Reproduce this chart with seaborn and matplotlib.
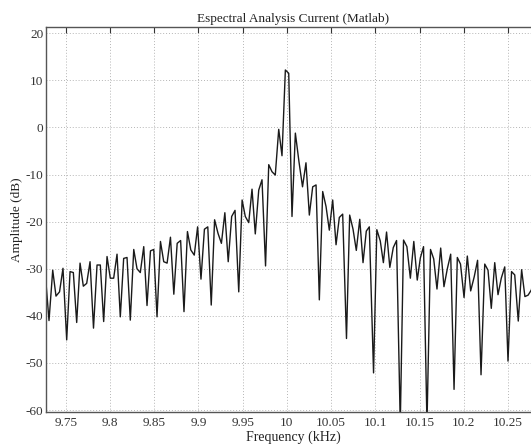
import numpy as np
import pandas as pd
import matplotlib
matplotlib.use('Agg')
import matplotlib.pyplot as plt
import seaborn as sns

# spectrum points (kHz, dB)
freq_khz = [
    9.7277, 9.7311, 9.7353, 9.7390, 9.7430, 9.7469, 9.7511, 9.7549, 9.7586, 9.7624,
    9.7662, 9.7699, 9.7737, 9.7775, 9.7814, 9.7854, 9.7891, 9.7929, 9.7967, 9.8004,
    9.8042, 9.8080, 9.8117, 9.8155, 9.8193, 9.8230, 9.8269, 9.8306, 9.8343, 9.8382,
    9.8419, 9.8458, 9.8495, 9.8532, 9.8571, 9.8608, 9.8646, 9.8684, 9.8722, 9.8760,
    9.8799, 9.8837, 9.8876, 9.8914, 9.8953, 9.8991, 9.9029, 9.9068, 9.9106, 9.9145,
    9.9183, 9.9222, 9.9260, 9.9299, 9.9337, 9.9376, 9.9414, 9.9456, 9.9494, 9.9530,
    9.9569, 9.9606, 9.9643, 9.9682, 9.9719, 9.9759, 9.9795, 9.9832, 9.9869, 9.9908,
    9.9945, 9.9983, 10.0021, 10.0058, 10.0096, 10.0137, 10.0177, 10.0216, 10.0254, 10.0292,
    10.0330, 10.0367, 10.0405, 10.0443, 10.0480, 10.0518, 10.0556, 10.0593, 10.0631, 10.0674,
    10.0710, 10.0748, 10.0785, 10.0824, 10.0861, 10.0898, 10.0932, 10.0980, 10.1017, 10.1056,
    10.1091, 10.1127, 10.1164, 10.1203, 10.1240, 10.1282, 10.1319, 10.1357, 10.1396, 10.1435,
    10.1474, 10.1509, 10.1545, 10.1584, 10.1624, 10.1660, 10.1697, 10.1739, 10.1776, 10.1814,
    10.1852, 10.1890, 10.1927, 10.1963, 10.2003, 10.2040, 10.2078, 10.2118, 10.2156, 10.2195,
    10.2237, 10.2274, 10.2311, 10.2350, 10.2387, 10.2424, 10.2463, 10.2500, 10.2540, 10.2576,
    10.2616, 10.2654, 10.2691, 10.2727, 10.2764, 10.2802,
]
amp_db = [
    -33.0, -41.0, -30.3, -35.8, -34.9, -29.9, -45.1, -30.6, -30.8, -41.4,
    -28.8, -33.7, -33.1, -28.5, -42.6, -29.2, -29.2, -41.2, -27.4, -32.0,
    -32.0, -26.9, -40.2, -27.8, -27.6, -40.9, -25.9, -30.0, -30.8, -25.3,
    -37.8, -26.2, -25.9, -40.2, -24.2, -28.5, -28.8, -23.3, -35.4, -24.6,
    -24.0, -39.1, -22.1, -26.0, -27.1, -21.1, -32.2, -21.6, -21.1, -37.7,
    -19.6, -22.5, -24.6, -18.1, -28.5, -18.9, -17.6, -34.9, -15.4, -18.9,
    -20.2, -13.1, -22.6, -13.3, -11.1, -29.4, -7.9, -9.4, -10.1, -0.4,
    -6.0, 12.2, 11.5, -18.9, -1.2, -7.3, -12.6, -7.5, -18.6, -12.6,
    -12.2, -36.6, -13.6, -16.8, -21.8, -15.4, -24.9, -19.1, -18.4, -44.8,
    -18.6, -21.6, -26.1, -19.5, -28.7, -22.0, -21.1, -52.1, -21.7, -24.1,
    -28.7, -22.2, -29.7, -25.5, -24.0, -63.0, -23.9, -25.3, -32.0, -24.2,
    -32.4, -27.7, -25.3, -63.0, -25.9, -27.9, -34.3, -25.6, -33.8, -30.0,
    -26.9, -55.6, -27.6, -29.0, -36.1, -27.3, -34.7, -31.7, -28.2, -52.5,
    -29.0, -30.3, -38.4, -28.7, -35.5, -32.0, -29.6, -49.6, -30.6, -31.3,
    -41.1, -30.2, -35.9, -35.6, -34.5, -31.0,
]

x_ticks = [9.75, 9.8, 9.85, 9.9, 9.95, 10, 10.05, 10.1, 10.15, 10.2, 10.25]
x_tick_labels = ['9.75', '9.8', '9.85', '9.9', '9.95', '10', '10.05', '10.1', '10.15', '10.2', '10.25']
y_ticks = [20, 10, 0, -10, -20, -30, -40, -50, -60]

df = pd.DataFrame({'freq': freq_khz, 'amp': amp_db})

sns.set_style('white')
plt.rcParams['font.family'] = ['Liberation Serif', 'DejaVu Serif']
plt.rcParams['axes.unicode_minus'] = False

fig = plt.figure(figsize=(5.31, 4.47), dpi=100)
# axes runs slightly past the right edge (reference is cropped there)
ax = fig.add_axes([46 / 531, 0.079, 495 / 531, 0.860])

sns.lineplot(data=df, x='freq', y='amp', ax=ax, color='#1a1a1a', linewidth=1.0,
             estimator=None, sort=False)

ax.set_xlim(9.7277, 10.2873)
ax.set_ylim(-60.34, 21.27)
ax.set_xticks(x_ticks)
ax.set_xticklabels(x_tick_labels)
ax.set_yticks(y_ticks)

ax.grid(True, color='#b5b5b5', linestyle=(0, (1, 2)), linewidth=0.7)
ax.tick_params(direction='in', length=4, width=0.8, colors='#333333',
               labelsize=9.5, top=True, right=True)
ax.tick_params(axis='x', pad=4)
ax.tick_params(axis='y', pad=2)
for s in ax.spines.values():
    s.set_color('#555555')
    s.set_linewidth(1.0)

ax.set_title('Espectral Analysis Current (Matlab)', fontsize=9.5, pad=4, color='#222222')
ax.set_xlabel('Frequency (kHz)', fontsize=10, labelpad=1, color='#222222')
ax.set_ylabel('Amplitude (dB)', fontsize=9.5, labelpad=2, color='#222222')

fig.savefig('out.png', dpi=100)
